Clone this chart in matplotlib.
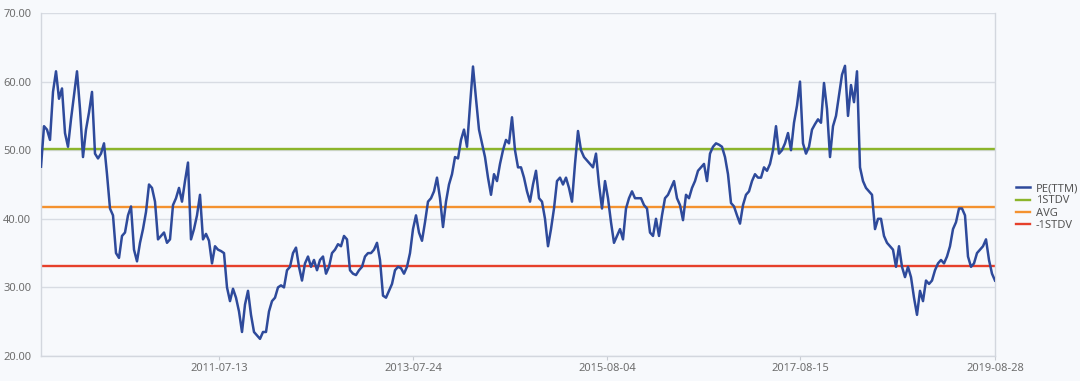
import numpy as np
import matplotlib.pyplot as plt

# PE(TTM), one value per ~3 px along the x axis
pe_ttm = [
    47.6, 53.5, 53.0, 51.5, 58.5, 61.5, 57.5, 59.0, 52.5, 50.5,
    54.5, 58.0, 61.5, 56.0, 49.0, 53.0, 55.5, 58.5, 49.5, 48.8,
    49.5, 51.0, 46.5, 41.5, 40.5, 35.0, 34.3, 37.5, 38.0, 40.5,
    41.8, 35.5, 33.8, 36.5, 38.5, 41.0, 45.0, 44.5, 42.5, 37.0,
    37.5, 38.0, 36.5, 37.0, 42.0, 43.0, 44.5, 42.5, 45.5, 48.2,
    37.0, 38.5, 40.5, 43.5, 37.0, 37.8, 36.8, 33.5, 36.0, 35.5,
    35.3, 35.0, 30.0, 28.0, 29.8, 28.5, 26.5, 23.5, 27.5, 29.5,
    26.0, 23.5, 23.0, 22.5, 23.5, 23.5, 26.5, 28.0, 28.5, 30.0,
    30.3, 30.0, 32.5, 33.0, 35.0, 35.8, 33.0, 31.0, 33.5, 34.5,
    33.0, 34.0, 32.5, 34.0, 34.5, 32.0, 33.0, 35.0, 35.5, 36.3,
    36.0, 37.5, 37.0, 32.5, 32.0, 31.8, 32.5, 33.0, 34.5, 35.0,
    35.0, 35.5, 36.5, 34.0, 28.8, 28.5, 29.5, 30.5, 32.5, 33.0,
    32.8, 32.0, 33.0, 35.0, 38.5, 40.5, 38.0, 36.8, 39.5, 42.5,
    43.0, 44.0, 46.0, 43.0, 38.8, 42.5, 45.0, 46.5, 49.0, 48.8,
    51.5, 53.0, 50.5, 56.5, 62.2, 57.5, 53.0, 51.0, 49.0, 46.0,
    43.5, 46.5, 45.5, 48.0, 50.0, 51.5, 51.0, 54.8, 50.0, 47.5,
    47.5, 46.0, 44.0, 42.5, 45.0, 47.0, 43.0, 42.5, 40.0, 36.0,
    38.5, 41.5, 45.5, 46.0, 45.0, 46.0, 44.5, 42.5, 48.0, 52.8,
    50.0, 49.0, 48.5, 48.0, 47.5, 49.5, 45.0, 41.5, 45.5, 43.0,
    39.5, 36.5, 37.5, 38.5, 37.0, 41.5, 43.0, 44.0, 43.0, 43.0,
    43.0, 42.0, 41.5, 38.0, 37.5, 40.0, 37.5, 40.5, 43.0, 43.5,
    44.5, 45.5, 43.0, 42.0, 39.8, 43.5, 43.0, 44.5, 45.5, 47.0,
    47.5, 48.0, 45.5, 49.5, 50.5, 51.0, 50.8, 50.5, 49.0, 46.5,
    42.3, 41.8, 40.5, 39.3, 42.0, 43.5, 44.0, 45.5, 46.5, 46.0,
    46.0, 47.5, 47.0, 48.0, 50.0, 53.5, 49.5, 50.0, 51.0, 52.5,
    50.0, 54.0, 56.5, 60.0, 51.0, 49.5, 50.5, 53.0, 53.8, 54.5,
    54.0, 59.8, 56.0, 49.0, 53.5, 55.0, 58.0, 61.0, 62.3, 55.0,
    59.5, 57.0, 61.5, 47.5, 45.5, 44.5, 44.0, 43.5, 38.5, 40.0,
    40.0, 37.5, 36.5, 36.0, 35.5, 33.0, 36.0, 33.0, 31.5, 33.0,
    31.5, 28.5, 26.0, 29.5, 28.0, 31.0, 30.5, 31.0, 32.5, 33.5,
    34.0, 33.5, 34.5, 36.0, 38.5, 39.5, 41.5, 41.5, 40.5, 34.5,
    33.0, 33.5, 35.0, 35.5, 36.0, 37.0, 34.0, 32.0, 31.0,
]

avg = 41.65
stdv_up = 50.2
stdv_down = 33.1

tick_pos = [59.3, 124, 188.7, 253, 318]
tick_labels = ["2011-07-13", "2013-07-24", "2015-08-04", "2017-08-15", "2019-08-28"]
y_ticks = [20, 30, 40, 50, 60, 70]

bg = "#f7f9fc"
plt.rcParams["font.family"] = ["Noto Sans", "DejaVu Sans"]

fig = plt.figure(figsize=(10.8, 3.81), dpi=100, facecolor=bg)
ax = fig.add_axes([41 / 1080, 25 / 381, 954 / 1080, 343 / 381], facecolor=bg)

x = np.arange(len(pe_ttm))
ax.plot(x, pe_ttm, color="#2e4a9b", lw=1.8, label="PE(TTM)", zorder=3)
ax.plot(x, [stdv_up] * len(x), color="#8cb52b", lw=1.7, label="1STDV", zorder=2)
ax.plot(x, [avg] * len(x), color="#f4922f", lw=1.7, label="AVG", zorder=2)
ax.plot(x, [stdv_down] * len(x), color="#e6402b", lw=1.7, label="-1STDV", zorder=2)

ax.set_xlim(0, len(pe_ttm) - 1)
ax.set_ylim(20, 70)
ax.set_yticks(y_ticks)
ax.set_yticklabels([f"{v:.2f}" for v in y_ticks])
ax.set_xticks(tick_pos)
ax.set_xticklabels(tick_labels)
ax.grid(axis="y", color="#d8dce3", lw=1.0, zorder=0)

ax.tick_params(axis="y", length=0, labelsize=8, labelcolor="#6e6e6e", pad=7)
ax.tick_params(axis="x", length=3, color="#c8ccd3", labelsize=8, labelcolor="#6e6e6e", pad=2)
ax.spines["top"].set_visible(False)
for side in ["left", "right", "bottom"]:
    ax.spines[side].set_color("#d3d7de")
    ax.spines[side].set_linewidth(1.0)

fig.legend(loc="center left", bbox_to_anchor=(1006 / 1080, 1 - 207 / 381), frameon=False,
           fontsize=8, handlelength=1.3, handletextpad=0.5, labelspacing=0.1,
           labelcolor="#555555")

fig.savefig("out.png", dpi=100, facecolor=bg)
